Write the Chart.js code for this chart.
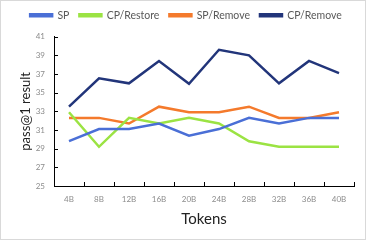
<!DOCTYPE html>
<html>
<head>
<meta charset="utf-8">
<script src="https://cdn.jsdelivr.net/npm/chart.js@4/dist/chart.umd.min.js"></script>
<style>
  html, body { margin: 0; padding: 0; background: #fff; }
  #wrap { width: 366px; height: 240px; }
</style>
</head>
<body>
<div id="wrap"><canvas id="myChart" width="366" height="240"></canvas></div>
<script>
const tokens = ['4B', '8B', '12B', '16B', '20B', '24B', '28B', '32B', '36B', '40B'];
const sp = [29.8, 31.1, 31.1, 31.7, 30.4, 31.1, 32.3, 31.7, 32.3, 32.3];
const cpRestore = [32.9, 29.2, 32.3, 31.7, 32.3, 31.7, 29.8, 29.2, 29.2, 29.2];
const spRemove = [32.3, 32.3, 31.7, 33.5, 32.9, 32.9, 33.5, 32.3, 32.3, 32.9];
const cpRemove = [33.5, 36.55, 36.0, 38.4, 35.95, 39.6, 39.0, 36.0, 38.4, 37.1];
const yTicks = [25, 27, 29, 31, 33, 35, 37, 39, 41];

const font = "Lato, 'Open Sans', sans-serif";

// frame + inside tick marks
const decor = {
  id: 'decor',
  beforeDraw(chart) {
    const c = chart.ctx;
    c.save();
    c.fillStyle = '#fff';
    c.fillRect(0, 0, chart.width, chart.height);
    c.restore();
  },
  afterDraw(chart) {
    const c = chart.ctx;
    const a = chart.chartArea;
    const y = chart.scales.y;
    c.save();
    c.strokeStyle = '#000';
    c.lineWidth = 1;
    c.beginPath();
    yTicks.forEach(v => {
      const py = Math.round(y.getPixelForValue(v)) + 0.5;
      c.moveTo(a.left, py);
      c.lineTo(a.left + 4, py);
    });
    for (let i = 0; i <= tokens.length; i++) {
      const px = Math.round(a.left + (a.right - a.left) * i / tokens.length) + 0.5;
      c.moveTo(px, a.bottom);
      c.lineTo(px, a.bottom - 4);
    }
    c.stroke();
    c.strokeStyle = '#d9d9d9';
    c.strokeRect(0.5, 0.5, chart.width - 1, chart.height - 1);
    c.restore();
  }
};

function line(label, data, color) {
  return {
    label: label,
    data: data,
    borderColor: color,
    backgroundColor: color,
    borderWidth: 2.5,
    pointRadius: 0,
    tension: 0,
    fill: false
  };
}

new Chart(document.getElementById('myChart'), {
  type: 'line',
  data: {
    labels: tokens,
    datasets: [
      line('SP', sp, '#4a6fd6'),
      line('CP/Restore', cpRestore, '#9be343'),
      line('SP/Remove', spRemove, '#f47a2c'),
      line('CP/Remove', cpRemove, '#22357a')
    ]
  },
  options: {
    responsive: false,
    animation: false,
    layout: { padding: { left: 18, right: 12, top: 0, bottom: 0 } },
    plugins: {
      legend: {
        position: 'top',
        labels: {
          boxWidth: 22,
          boxHeight: 2,
          padding: 10,
          color: '#595959',
          font: { family: font, size: 10.5 }
        }
      },
      // empty spacer between legend and plot
      subtitle: {
        display: true,
        text: '',
        weight: 0,
        font: { size: 1 },
        padding: { top: 0, bottom: 5 }
      },
      tooltip: { enabled: false }
    },
    scales: {
      x: {
        offset: true,
        grid: { display: false, offset: true },
        border: { color: '#000', width: 1 },
        ticks: { color: '#8c8c8c', font: { family: font, size: 8 }, padding: 1, maxRotation: 0 },
        title: { display: true, text: 'Tokens', color: '#222', font: { family: font, size: 15 }, padding: { top: 0, bottom: 12 } },
        afterFit(s) { s.height = 54; }
      },
      y: {
        min: 25,
        max: 41,
        afterBuildTicks(s) { s.ticks = yTicks.map(v => ({ value: v })); },
        grid: { display: false },
        border: { color: '#000', width: 1 },
        ticks: { color: '#8c8c8c', font: { family: font, size: 8 }, padding: 1 },
        title: { display: true, text: 'pass@1 result', color: '#222', font: { family: font, size: 13 }, padding: 0 },
        afterFit(s) { s.width = 36; }
      }
    }
  },
  plugins: [decor]
});
</script>
</body>
</html>
